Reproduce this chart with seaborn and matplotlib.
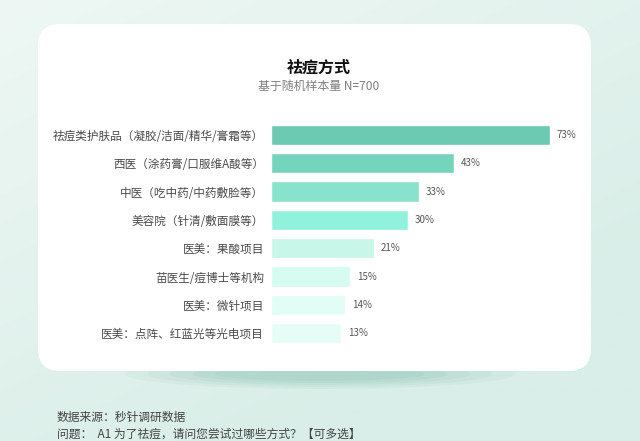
import numpy as np
import pandas as pd
import matplotlib
matplotlib.use("Agg")
import matplotlib.pyplot as plt
from matplotlib.patches import FancyBboxPatch, Ellipse
import seaborn as sns

categories = [
    "祛痘类护肤品（凝胶/洁面/精华/膏霜等）",
    "西医（涂药膏/口服维A酸等）",
    "中医（吃中药/中药敷脸等）",
    "美容院（针清/敷面膜等）",
    "医美：果酸项目",
    "苗医生/痘博士等机构",
    "医美：微针项目",
    "医美：点阵、红蓝光等光电项目",
]
values = [73, 43, 33, 30, 21, 15, 14, 13]
bar_colors = ["#6ccab2", "#75d5bc", "#87e3cb", "#91f2db",
              "#c8f7ea", "#d6fbf1", "#e1fdf5", "#e6fdf7"]
title = "祛痘方式"
subtitle = "基于随机样本量 N=700"
source = "数据来源：秒针调研数据"
question = "问题：  A1 为了祛痘，请问您尝试过哪些方式？【可多选】"

sns.set_theme(style="white")
plt.rcParams["font.family"] = ["Noto Sans CJK SC", "DejaVu Sans"]

W, H = 640, 441
fig = plt.figure(figsize=(6.4, 4.41), dpi=100)

# background gradient
bg = fig.add_axes([0, 0, 1, 1])
bg.set_zorder(-10)
yy, xx = np.mgrid[0:1:200j, 0:1:300j]
t = np.clip(0.55 * xx + 0.75 * yy, 0, 1)
c0 = np.array([0xee, 0xf7, 0xf4]) / 255
c1 = np.array([0xd9, 0xee, 0xe8]) / 255
img = c0[None, None, :] * (1 - t[..., None]) + c1[None, None, :] * t[..., None]
bg.imshow(img, extent=[0, 1, 0, 1], aspect="auto", origin="upper")
bg.set_xlim(0, 1); bg.set_ylim(0, 1)
bg.axis("off")

# card shadow
for i, a in enumerate([0.07, 0.08, 0.09, 0.10, 0.10]):
    e = Ellipse((320 / W, 1 - 374 / H), (390 - i * 45) / W, (30 - i * 4) / H,
                transform=fig.transFigure, facecolor="#6fb5a2", alpha=a,
                edgecolor="none", zorder=-6)
    fig.patches.append(e)

# card
card = FancyBboxPatch((38 / W, 1 - 371 / H), (591 - 38) / W, (371 - 24) / H,
                      boxstyle="round,pad=0,rounding_size=0.035",
                      transform=fig.transFigure, facecolor="white",
                      edgecolor="none", mutation_aspect=W / H, zorder=-5)
fig.patches.append(card)

# bars axes (the reference's bar lengths grow sub-linearly: power scale)
p = 0.8
spacing = 28.3
top_px = 135 - spacing / 2
ax_h = 8 * spacing
xmax = 80
bar_left, bar_right73 = 271, 550
ax_w = (bar_right73 - bar_left) * (xmax ** p) / (73 ** p)
ax = fig.add_axes([bar_left / W, 1 - (top_px + ax_h) / H, ax_w / W, ax_h / H])
ax.set_zorder(2)
ax.patch.set_alpha(0)
df = pd.DataFrame({"cat": categories, "val": values})
sns.barplot(data=df, y="cat", x="val", hue="cat", palette=bar_colors,
            legend=False, orient="h", width=0.72, ax=ax, saturation=1)
ax.set_xscale("function", functions=(lambda x: np.sign(x) * np.abs(x) ** p,
                                     lambda y: np.sign(y) * np.abs(y) ** (1 / p)))
ax.set_xlim(0, xmax)
ax.set_ylim(7.5, -0.5)
ax.set_xlabel(""); ax.set_ylabel("")
ax.set_xticks([])
ax.minorticks_off()
for s in ax.spines.values():
    s.set_visible(False)
ax.tick_params(axis="y", length=0, pad=5, labelsize=8.35, labelcolor="#4a4a4a")
for i, v in enumerate(values):
    ax.annotate(f"{v}%", xy=(v, i), xytext=(5, 0), textcoords="offset points",
                va="center", ha="left", fontsize=7, color="#555555",
                annotation_clip=False)

fig.text(319 / W, 1 - 68 / H, title, ha="center", va="center",
         fontsize=11.5, fontweight="bold", color="#111111")
fig.text(319 / W, 1 - 86 / H, subtitle, ha="center", va="center",
         fontsize=8.6, color="#808080")
fig.text(57 / W, 1 - 417 / H, source, ha="left", va="center",
         fontsize=8.5, color="#444444")
fig.text(57 / W, 1 - 434 / H, question, ha="left", va="center",
         fontsize=8.5, color="#444444")

fig.savefig("out.png", dpi=100)
